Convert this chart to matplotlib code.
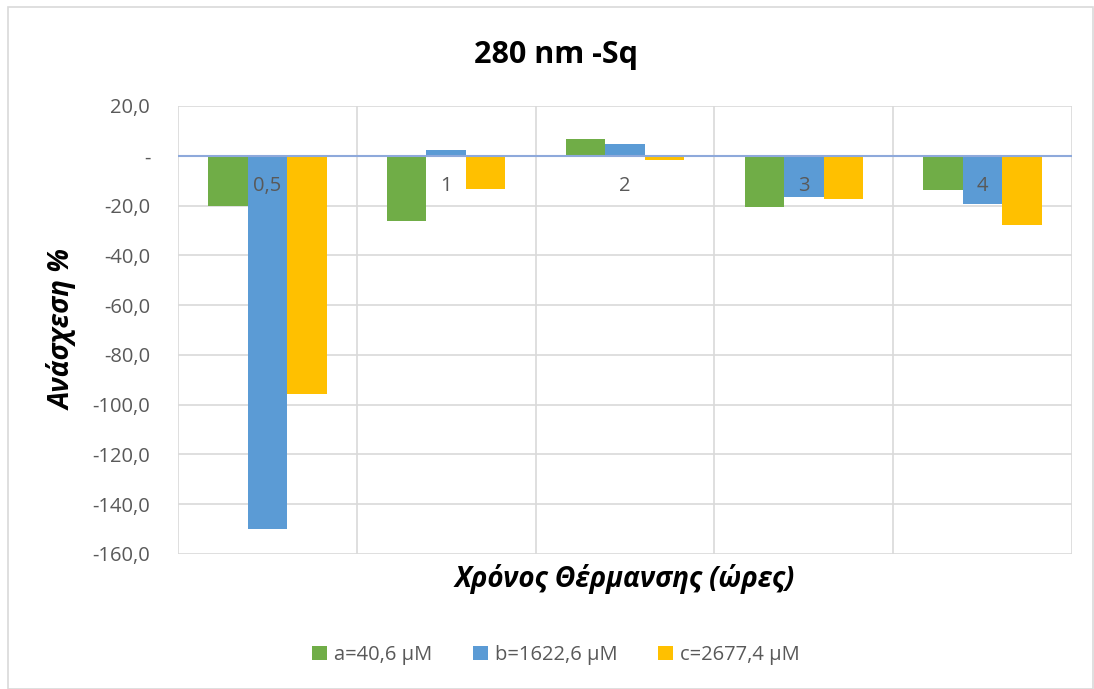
import matplotlib.pyplot as plt
import numpy as np
from matplotlib.ticker import FuncFormatter
from matplotlib.patches import Rectangle

plt.rcParams['font.family'] = ['Open Sans', 'DejaVu Sans']

# DATI
categorie = ["0,5", "1", "2", "3", "4"]
serie_a = [-20.0, -26.2, 6.6, -20.7, -13.8]
serie_b = [-150.0, 2.3, 4.7, -16.4, -19.5]
serie_c = [-95.6, -13.2, -1.5, -17.4, -27.7]
legenda = ["a=40,6 μM", "b=1622,6 μM", "c=2677,4 μM"]
colori = ["#70AD47", "#5B9BD5", "#FFC000"]
y_ticks = [20, 0, -20, -40, -60, -80, -100, -120, -140, -160]

fig = plt.figure(figsize=(10.94, 6.89), dpi=100)
ax = fig.add_axes([178/1094, 1 - 554/689, (1072-178)/1094, (554-106)/689])

x = np.arange(len(categorie))
w = 0.221
for k, (vals, col, lab) in enumerate(zip([serie_a, serie_b, serie_c], colori, legenda)):
    ax.bar(x + (k - 1) * w, vals, width=w, color=col, label=lab, zorder=2)

# griglia stile Excel
ax.set_ylim(-160, 20)
ax.set_xlim(-0.5, len(categorie) - 0.5)
ax.set_yticks(y_ticks)
ax.yaxis.set_major_formatter(FuncFormatter(lambda v, p: "-" if v == 0 else f"{v:.1f}".replace(".", ",")))
for v in y_ticks:
    ax.axhline(v, color="#D9D9D9", lw=1.2, zorder=0)
for b in np.arange(-0.5, len(categorie), 1):
    ax.axvline(b, color="#D9D9D9", lw=1.2, zorder=0)
ax.axhline(0, color="#8EA9DB", lw=1.5, zorder=3)
for s in ax.spines.values():
    s.set_visible(False)
ax.set_xticks([])
ax.tick_params(axis="y", length=0, labelsize=14.5, labelcolor="#595959", pad=20)

# etichette categorie vicino allo zero
for i, c in enumerate(categorie):
    ax.annotate(c, xy=(i, 0), xytext=(0, -22), textcoords="offset points",
                ha="center", va="center", fontsize=14.5, color="#595959", zorder=4)

fig.text(556/1094, 1 - 55/689, "280 nm -Sq", ha="center", va="center",
         fontsize=22, fontweight="bold")
fig.text(625/1094, 1 - 579/689, "Χρόνος Θέρμανσης (ώρες)", ha="center", va="center",
         fontsize=20, fontweight="bold", style="italic")
fig.text(63/1094, 1 - 330/689, "Ανάσχεση %", ha="center", va="center", rotation=90,
         fontsize=20, fontweight="bold", style="italic")

fig.legend(loc="center", bbox_to_anchor=(556/1094, 1 - 655/689), ncol=3, frameon=False,
           fontsize=14.5, labelcolor="#595959", handlelength=0.75, handleheight=0.75,
           handletextpad=0.35, columnspacing=2.0)

fig.patches.append(Rectangle((8/1094, 0.0), 1 - 8/1094 - 0.001, 1 - 7/689, transform=fig.transFigure,
                             fill=False, edgecolor="#D9D9D9", lw=1.2))

fig.savefig("out.png", dpi=100)
